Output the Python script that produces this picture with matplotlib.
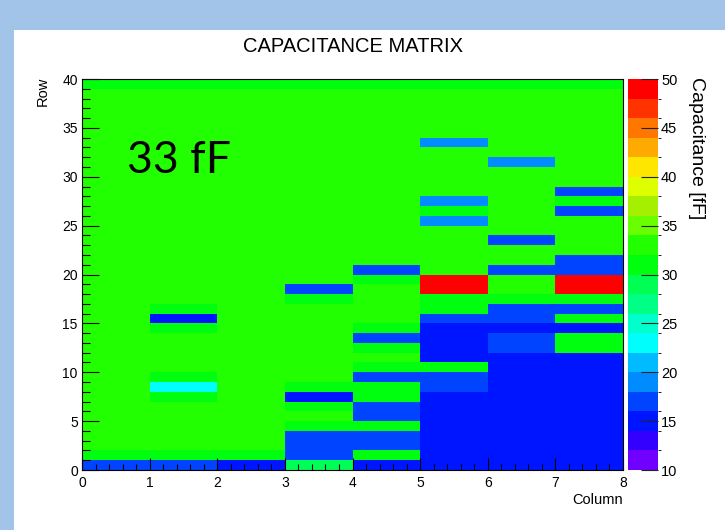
import matplotlib
matplotlib.use("Agg")
import matplotlib.pyplot as plt
import numpy as np
from matplotlib.colors import ListedColormap, BoundaryNorm
from matplotlib.patches import Rectangle
from matplotlib.ticker import MultipleLocator

plt.rcParams["font.family"] = ["Liberation Sans", "DejaVu Sans"]

# capacitance per pad [fF], one list per row, columns 0..7, top row first
cap_rows_top_down = [
    [31, 31, 31, 31, 31, 31, 31, 31],  # 39
    [33, 33, 33, 33, 33, 33, 33, 33],  # 38
    [33, 33, 33, 33, 33, 33, 33, 33],  # 37
    [33, 33, 33, 33, 33, 33, 33, 33],  # 36
    [33, 33, 33, 33, 33, 33, 33, 33],  # 35
    [33, 33, 33, 33, 33, 33, 33, 33],  # 34
    [33, 33, 33, 33, 33, 19, 33, 33],  # 33
    [33, 33, 33, 33, 33, 33, 33, 33],  # 32
    [33, 33, 33, 33, 33, 33, 19, 33],  # 31
    [33, 33, 33, 33, 33, 33, 33, 33],  # 30
    [33, 33, 33, 33, 33, 33, 33, 33],  # 29
    [33, 33, 33, 33, 33, 33, 33, 17],  # 28
    [33, 33, 33, 33, 33, 19, 33, 31],  # 27
    [33, 33, 33, 33, 33, 31, 33, 17],  # 26
    [33, 33, 33, 33, 33, 19, 33, 33],  # 25
    [33, 33, 33, 33, 33, 33, 33, 33],  # 24
    [33, 33, 33, 33, 33, 33, 17, 33],  # 23
    [33, 33, 33, 33, 33, 33, 33, 33],  # 22
    [33, 33, 33, 33, 33, 33, 33, 17],  # 21
    [33, 33, 33, 33, 17, 33, 17, 17],  # 20
    [33, 33, 33, 33, 31, 49, 33, 49],  # 19
    [33, 33, 33, 17, 33, 49, 33, 49],  # 18
    [33, 33, 33, 31, 33, 31, 31, 31],  # 17
    [33, 31, 33, 33, 33, 31, 17, 17],  # 16
    [33, 15, 33, 33, 33, 17, 17, 31],  # 15
    [33, 31, 33, 33, 31, 15, 15, 15],  # 14
    [33, 33, 33, 33, 17, 15, 17, 31],  # 13
    [33, 33, 33, 33, 31, 15, 17, 31],  # 12
    [33, 33, 33, 33, 33, 15, 15, 15],  # 11
    [33, 33, 33, 33, 31, 31, 15, 15],  # 10
    [33, 31, 33, 33, 17, 17, 15, 15],  # 9
    [33, 23, 33, 31, 31, 17, 15, 15],  # 8
    [33, 31, 33, 15, 31, 15, 15, 15],  # 7
    [33, 33, 33, 31, 17, 15, 15, 15],  # 6
    [33, 33, 33, 33, 17, 15, 15, 15],  # 5
    [33, 33, 33, 31, 31, 15, 15, 15],  # 4
    [33, 33, 33, 17, 17, 15, 15, 15],  # 3
    [33, 33, 33, 17, 17, 15, 15, 15],  # 2
    [31, 31, 31, 17, 31, 15, 15, 15],  # 1
    [17, 17, 15, 29, 15, 15, 15, 15],  # 0
]
n_cols = 8
n_rows = 40
levels = list(range(10, 52, 2))
cbar_ticks = [10, 15, 20, 25, 30, 35, 40, 45, 50]

# 20-step rainbow palette, violet -> red
palette = [
    "#7000ff", "#3300ff", "#0015ff", "#0044ff", "#008bff",
    "#00bbff", "#00fffc", "#00ffcc", "#00ff85", "#00ff55",
    "#00ff0e", "#22ff00", "#69ff00", "#a5f000", "#ddff00",
    "#ffe600", "#ffaa00", "#ff7700", "#ff3300", "#ff0000",
]

cap = np.array(cap_rows_top_down[::-1], dtype=float)

fig = plt.figure(figsize=(7.25, 5.30), dpi=100, facecolor="#a2c4e9")
# white slide panel behind the canvas
fig.patches.append(Rectangle((14 / 725, 0), 1, 500 / 530, transform=fig.transFigure,
                             facecolor="white", edgecolor="none", zorder=-10))

ax = fig.add_axes([82 / 725, 60 / 530, 541 / 725, 391 / 530])
cax = fig.add_axes([627.5 / 725, 60 / 530, 30 / 725, 391 / 530])

cmap = ListedColormap(palette)
norm = BoundaryNorm(levels, cmap.N)
mesh = ax.pcolormesh(np.arange(n_cols + 1), np.arange(n_rows + 1), cap,
                     cmap=cmap, norm=norm, shading="flat")

ax.set_xlim(0, n_cols)
ax.set_ylim(0, n_rows)
ax.xaxis.set_major_locator(MultipleLocator(1))
ax.xaxis.set_minor_locator(MultipleLocator(0.2))
ax.yaxis.set_major_locator(MultipleLocator(5))
ax.yaxis.set_minor_locator(MultipleLocator(1))
ax.tick_params(axis="x", which="major", direction="in", length=8.5, width=0.8,
               labelsize=10, pad=4)
ax.tick_params(axis="x", which="minor", direction="in", length=4.3, width=0.8)
ax.tick_params(axis="y", which="major", direction="in", length=12, width=0.8,
               labelsize=10, pad=3)
ax.tick_params(axis="y", which="minor", direction="in", length=5.8, width=0.8)
for sp in ax.spines.values():
    sp.set_linewidth(0.8)
    sp.set_color("black")

cb = fig.colorbar(mesh, cax=cax, ticks=cbar_ticks)
cb.outline.set_visible(False)
cax.tick_params(axis="y", direction="in", length=12, width=0.8, labelsize=10.5,
                pad=2.5, color="#222222")

fig.text(353 / 725, 1 - 47 / 530, "CAPACITANCE MATRIX", ha="center", va="center",
         fontsize=14.5)
fig.text(697 / 725, 1 - 77 / 530, "Capacitance [fF]", rotation=-90, ha="center",
         va="top", fontsize=14)
fig.text(43 / 725, 1 - 77 / 530, "Row", rotation=90, ha="center", va="top",
         fontsize=10.5)
fig.text(623 / 725, 1 - 500 / 530, "Column", ha="right", va="center", fontsize=10.5)
fig.text(127 / 725, 1 - 173 / 530, "33 fF", ha="left", va="baseline",
         fontsize=32, family=["Lato", "DejaVu Sans"])

fig.savefig("out.png", dpi=100, facecolor=fig.get_facecolor())
